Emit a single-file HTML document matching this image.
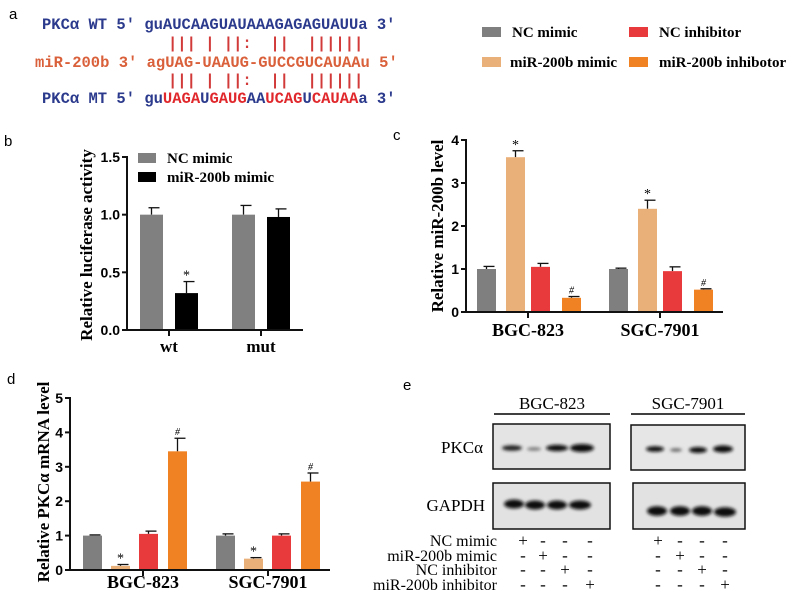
<!DOCTYPE html>
<html><head><meta charset="utf-8"><style>
body{margin:0;background:#fff}
svg{display:block}
.mono{font-family:"Liberation Mono",monospace;font-weight:bold;font-size:15.5px;white-space:pre}
.ser{font-family:"Liberation Serif",serif}
.sans{font-family:"Liberation Sans",sans-serif}
</style></head><body>
<svg id="fig" width="800" height="601" viewBox="0 0 800 601" xmlns="http://www.w3.org/2000/svg">
<!-- panel labels -->
<text x="9" y="19" class="sans" font-size="15">a</text>
<text x="4" y="146" class="sans" font-size="15">b</text>
<text x="393" y="140" class="sans" font-size="15">c</text>
<text x="7" y="384" class="sans" font-size="15">d</text>
<text x="403" y="390" class="sans" font-size="15">e</text>

<!-- panel a -->
<g class="mono">
<text x="42" y="29" fill="#2b3a8c">PKCα WT 5' guAUCAAGUAUAAAGAGAGUAUUa 3'</text>
<text x="168" y="48" fill="#d23a3a">|||&#160;|&#160;||:&#160;&#160;||&#160;&#160;||||||</text>
<text x="35" y="67" fill="#d9603a">miR-200b 3' agUAG-UAAUG-GUCCGUCAUAAu 5'</text>
<text x="168" y="85" fill="#d23a3a">|||&#160;|&#160;||:&#160;&#160;||&#160;&#160;||||||</text>
<text x="42" y="103" fill="#2b3a8c">PKCα MT 5' gu<tspan fill="#e0282c">UAGA</tspan>U<tspan fill="#e0282c">GAUG</tspan>AA<tspan fill="#e0282c">UCAG</tspan>U<tspan fill="#e0282c">CAUAA</tspan>a 3'</text>
</g>

<!-- top-right legend -->
<g class="ser" font-weight="bold" font-size="15">
<rect x="482" y="27" width="19" height="10" fill="#7f7f7f"/>
<text x="512" y="37">NC mimic</text>
<rect x="629" y="27" width="19" height="10" fill="#e8393c"/>
<text x="659" y="37">NC inhibitor</text>
<rect x="482" y="57" width="19" height="10" fill="#eab07a"/>
<text x="510" y="67">miR-200b mimic</text>
<rect x="629" y="57" width="19" height="10" fill="#f08224"/>
<text x="659" y="67">miR-200b inhibotor</text>
</g>

<!-- panel b legend -->
<g class="ser" font-weight="bold" font-size="15">
<rect x="138" y="153" width="18" height="10" fill="#808080"/>
<text x="167" y="163">NC mimic</text>
<rect x="138" y="172" width="18" height="10" fill="#000"/>
<text x="167" y="182">miR-200b mimic</text>
</g>

<g id="charts"></g>

<!-- panel e western blot -->
<g>
<defs>
<filter id="blur1"><feGaussianBlur stdDeviation="1.6"/></filter>
</defs>
<text x="552" y="409" class="ser" font-size="17" text-anchor="middle">BGC-823</text>
<line x1="494" y1="414" x2="610" y2="414" stroke="#000" stroke-width="1.5"/>
<text x="688" y="409" class="ser" font-size="17" text-anchor="middle">SGC-7901</text>
<line x1="631" y1="414" x2="745" y2="414" stroke="#000" stroke-width="1.5"/>
<text x="483" y="453" class="ser" font-size="17" text-anchor="end">PKCα</text>
<text x="485" y="511" class="ser" font-size="17" text-anchor="end">GAPDH</text>
<rect x="493" y="424" width="117" height="45" fill="#e4e4e4" stroke="#111" stroke-width="1.5"/>
<rect x="631" y="425" width="114" height="45" fill="#e6e6e6" stroke="#111" stroke-width="1.5"/>
<rect x="493" y="483" width="117" height="46" fill="#e2e2e2" stroke="#111" stroke-width="1.5"/>
<rect x="633" y="483" width="112" height="46" fill="#e2e2e2" stroke="#111" stroke-width="1.5"/>
<g filter="url(#blur1)" fill="#111">
<ellipse cx="512" cy="448" rx="10" ry="2.8" fill="#222"/>
<ellipse cx="534" cy="449" rx="7" ry="1.8" fill="#777"/>
<ellipse cx="557" cy="448" rx="11" ry="3.2"/>
<ellipse cx="582" cy="448" rx="12" ry="4"/>
<ellipse cx="655" cy="449" rx="9" ry="2.8"/>
<ellipse cx="676" cy="450" rx="6" ry="1.8" fill="#666"/>
<ellipse cx="698" cy="450" rx="9" ry="3"/>
<ellipse cx="723" cy="449" rx="10" ry="3.6"/>
<ellipse cx="514" cy="504" rx="10" ry="4.5"/>
<ellipse cx="535" cy="505" rx="10" ry="4.5"/>
<ellipse cx="557" cy="505" rx="10" ry="4.5"/>
<ellipse cx="580" cy="505" rx="11" ry="4.5"/>
<ellipse cx="657" cy="511" rx="10" ry="4.8"/>
<ellipse cx="680" cy="511" rx="10" ry="4.8"/>
<ellipse cx="702" cy="511" rx="10" ry="4.8"/>
<ellipse cx="725" cy="512" rx="11" ry="4.8"/>
</g>
<g class="ser" font-size="16" text-anchor="end">
<text x="497" y="546">NC mimic</text>
<text x="497" y="561">miR-200b mimic</text>
<text x="497" y="575">NC inhibitor</text>
<text x="497" y="590">miR-200b inhibitor</text>
</g>
<g id="signs" class="ser" font-size="17" text-anchor="middle"></g>
</g>
</svg>
<script>
const NS="http://www.w3.org/2000/svg";
const root=document.getElementById('charts');
function mk(tag,attrs,parent){const e=document.createElementNS(NS,tag);for(const k in attrs)e.setAttribute(k,attrs[k]);(parent||root).appendChild(e);return e;}

// ----- panel b data -----
const bCategories=["wt","mut"];
const bSeriesNames=["NC mimic","miR-200b mimic"];
const bNC=[1.0,1.0];
const bNCerr=[0.06,0.08];
const bMir=[0.32,0.98];
const bMirErr=[0.10,0.07];
const bTicks=[0,0.5,1.0,1.5];
const bTickLabels=["0.0","0.5","1.0","1.5"];

// ----- panel c data -----
const cCategories=["BGC-823","SGC-7901"];
const cNCmimic=[1.0,1.0];
const cMirMimic=[3.6,2.4];
const cNCinh=[1.05,0.95];
const cMirInh=[0.33,0.52];
const cNCmimicErr=[0.06,0.02];
const cMirMimicErr=[0.15,0.2];
const cNCinhErr=[0.08,0.1];
const cMirInhErr=[0.03,0.02];
const cTicks=[0,1,2,3,4];
const cTickLabels=["0","1","2","3","4"];

// ----- panel d data -----
const dCategories=["BGC-823","SGC-7901"];
const dNCmimic=[1.0,1.0];
const dMirMimic=[0.12,0.33];
const dNCinh=[1.05,1.0];
const dMirInh=[3.45,2.57];
const dNCmimicErr=[0.02,0.05];
const dMirMimicErr=[0.04,0.03];
const dNCinhErr=[0.08,0.05];
const dMirInhErr=[0.38,0.25];
const dTicks=[0,1,2,3,4,5];
const dTickLabels=["0","1","2","3","4","5"];

// ----- panel e data -----
const eRows=[[1,0,0,0],[0,1,0,0],[0,0,1,0],[0,0,0,1]];

const colors4=["#7f7f7f","#eab07a","#e8393c","#f08224"];

function drawChart(cfg){
  const g=mk('g',{});
  
  
  const y=v=>cfg.y0-(v-cfg.vmin)/(cfg.vmax-cfg.vmin)*(cfg.y0-cfg.y1);
  cfg.series.forEach((s,si)=>{
    s.vals.forEach((v,ci)=>{
      const x=cfg.groupX[ci]+cfg.offsets[si];
      const top=y(v+s.err[ci]);
      const el=mk('line',{x1:x+cfg.bw/2,x2:x+cfg.bw/2,y1:y(v),y2:top,stroke:'#111','stroke-width':1.3},g);
      
      const cap=mk('line',{x1:x+cfg.bw/2-3,x2:x+cfg.bw/2+8,y1:top,y2:top,stroke:'#111','stroke-width':1.3},g);
      
      const r=mk('rect',{x:x,y:y(v),width:cfg.bw,height:y(cfg.vmin)-y(v),fill:s.color},g);
      
      
      const m=s.marks[ci];
      if(m){const t=mk('text',{x:x+cfg.bw/2,y:top-(m==='*'?2:3),'text-anchor':'middle','font-size':m==='*'?14:10,'font-family':'Liberation Serif, serif','font-style':m==='#'?'italic':'normal'},g);t.textContent=m;
        }
    });
  });
  const ya=mk('line',{x1:cfg.ax,x2:cfg.ax,y1:cfg.y1-1,y2:cfg.y0+1,stroke:'#111','stroke-width':2},g);
  
  const xa=mk('line',{x1:cfg.ax-1,x2:cfg.axEnd,y1:cfg.y0,y2:cfg.y0,stroke:'#111','stroke-width':2},g);
  
  cfg.ticks.forEach((t,i)=>{
    mk('line',{x1:cfg.ax-5,x2:cfg.ax,y1:y(t),y2:y(t),stroke:'#111','stroke-width':2},g);
    const tl=mk('text',{x:cfg.ax-7,y:y(t)+5,'text-anchor':'end','font-size':14,'font-weight':'bold','font-family':'Liberation Sans, sans-serif'},g);
    tl.textContent=cfg.tickLabels[i];
    
  });
  cfg.cats.forEach((c,i)=>{
    mk('line',{x1:cfg.catX[i],x2:cfg.catX[i],y1:cfg.y0,y2:cfg.y0+6,stroke:'#111','stroke-width':2},g);
    const tl=mk('text',{x:cfg.catX[i],y:cfg.catY,'text-anchor':'middle','font-size':cfg.catSize,'font-weight':'bold','font-family':'Liberation Serif, serif'},g);
    tl.textContent=c;
    
  });
  const tt=mk('text',{x:0,y:0,transform:`translate(${cfg.titleX},${cfg.titleY}) rotate(-90)`,'text-anchor':'middle','font-size':cfg.titleSize,'font-weight':'bold','font-family':'Liberation Serif, serif'},g);
  tt.textContent=cfg.title;
  
}

drawChart({name:'chart-b-luciferase',vmin:0,vmax:1.5,y0:330,y1:157,ax:127,axEnd:303,
  groupX:[140,232],offsets:[0,35],bw:23,cats:bCategories,catX:[169,261],catY:352,catSize:17,
  ticks:bTicks,tickLabels:bTickLabels,title:'Relative luciferase activity',titleX:92,titleY:245,titleSize:17,
  series:[{key:'nc-mimic',vals:bNC,err:bNCerr,color:'#808080',marks:["",""]},
          {key:'mir-mimic',vals:bMir,err:bMirErr,color:'#000',marks:["*",""]}]});

drawChart({name:'chart-c-mir200b-level',vmin:0,vmax:4,y0:312,y1:140,ax:466,axEnd:723,
  groupX:[477,609],offsets:[0,29,54,85],bw:19,cats:cCategories,catX:[528,660],catY:336,catSize:18,
  ticks:cTicks,tickLabels:cTickLabels,title:'Relative miR-200b level',titleX:443,titleY:226,titleSize:17,
  series:[{key:'nc-mimic',vals:cNCmimic,err:cNCmimicErr,color:colors4[0],marks:["",""]},
          {key:'mir-mimic',vals:cMirMimic,err:cMirMimicErr,color:colors4[1],marks:["*","*"]},
          {key:'nc-inhibitor',vals:cNCinh,err:cNCinhErr,color:colors4[2],marks:["",""]},
          {key:'mir-inhibitor',vals:cMirInh,err:cMirInhErr,color:colors4[3],marks:["#","#"]}]});

drawChart({name:'chart-d-pkca-mrna',vmin:0,vmax:5,y0:570,y1:398,ax:70,axEnd:330,
  groupX:[83,216],offsets:[0,28,56,85],bw:19,cats:dCategories,catX:[143,268],catY:588,catSize:18,
  ticks:dTicks,tickLabels:dTickLabels,title:'Relative PKCα mRNA level',titleX:49,titleY:482,titleSize:17,
  series:[{key:'nc-mimic',vals:dNCmimic,err:dNCmimicErr,color:colors4[0],marks:["",""]},
          {key:'mir-mimic',vals:dMirMimic,err:dMirMimicErr,color:colors4[1],marks:["*","*"]},
          {key:'nc-inhibitor',vals:dNCinh,err:dNCinhErr,color:colors4[2],marks:["",""]},
          {key:'mir-inhibitor',vals:dMirInh,err:dMirInhErr,color:colors4[3],marks:["#","#"]}]});

const signs=document.getElementById('signs');
const colL=[523,543,565,590],colR=[658,680,702,725],rowY=[546,561,575,590];
eRows.forEach((row,ri)=>{
  row.forEach((v,ci)=>{
    [colL[ci],colR[ci]].forEach(cx=>{
      const t=mk('text',{x:cx,y:rowY[ri]},signs);
      t.textContent=v?'+':'-';
      
      
    });
  });
});
</script>
</body></html>
